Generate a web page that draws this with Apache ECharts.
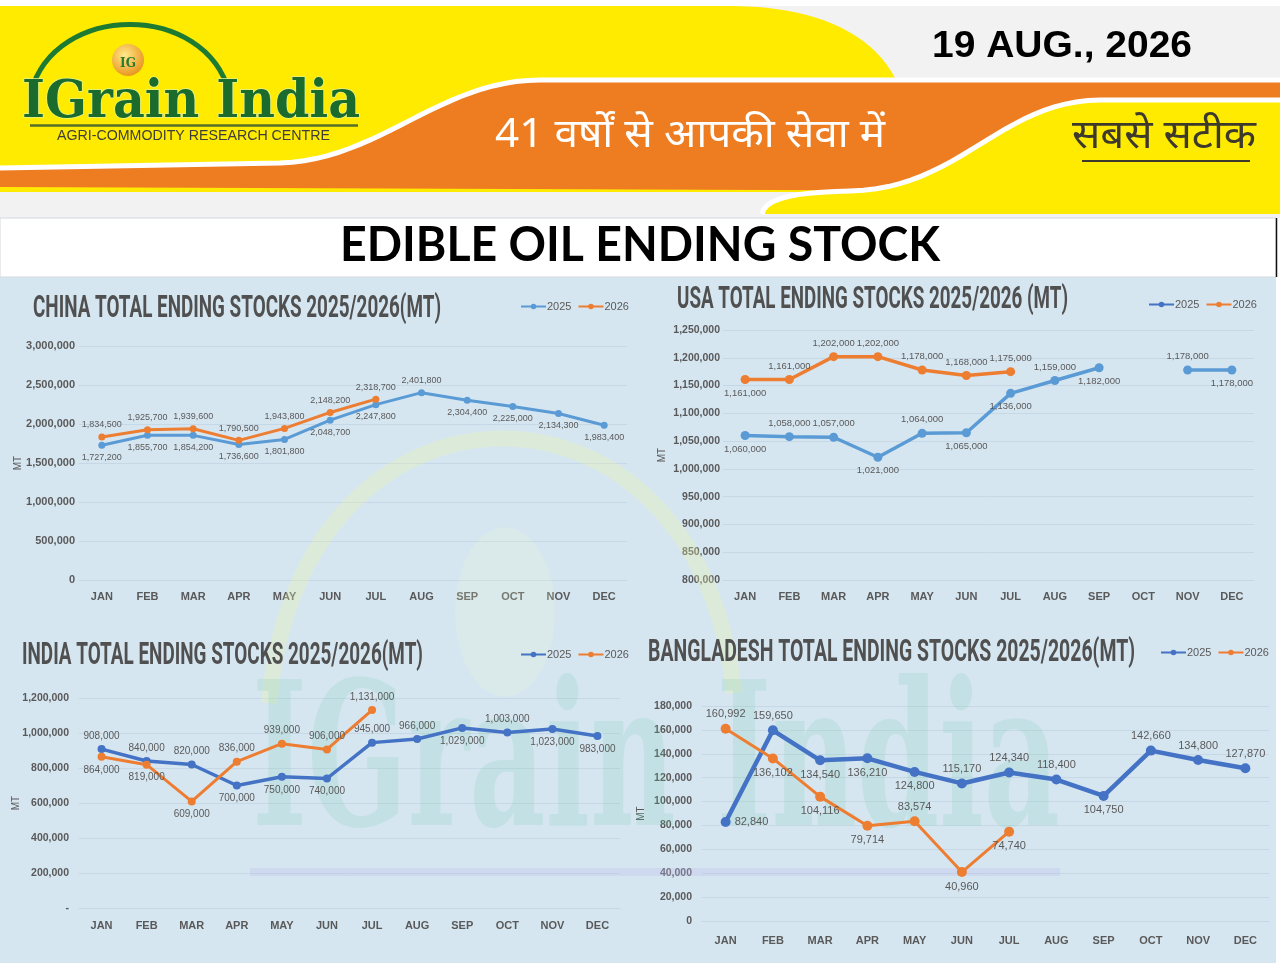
<!DOCTYPE html>
<html>
<head>
<meta charset="utf-8">
<title>Edible Oil Ending Stock</title>
<script src="https://cdn.jsdelivr.net/npm/echarts@6/dist/echarts.min.js"></script>
<style>
html, body { margin: 0; padding: 0; background: #fff; }
#main { width: 1280px; height: 968px; }
</style>
</head>
<body>
<div id="main"></div>
<script>
// ---- data ----
const months = ['JAN', 'FEB', 'MAR', 'APR', 'MAY', 'JUN', 'JUL', 'AUG', 'SEP', 'OCT', 'NOV', 'DEC'];

const china2025 = [1727200, 1855700, 1854200, 1736600, 1801800, 2048700, 2247800, 2401800, 2304400, 2225000, 2134300, 1983400];
const china2026 = [1834500, 1925700, 1939600, 1790500, 1943800, 2148200, 2318700];

const usa2025 = [1060000, 1058000, 1057000, 1021000, 1064000, 1065000, 1136000, 1159000, 1182000, null, 1178000, 1178000];
const usa2026 = [1161000, 1161000, 1202000, 1202000, 1178000, 1168000, 1175000];

const india2025 = [908000, 840000, 820000, 700000, 750000, 740000, 945000, 966000, 1029000, 1003000, 1023000, 983000];
const india2026 = [864000, 819000, 609000, 836000, 939000, 906000, 1131000];

const bangla2025 = [82840, 159650, 134540, 136210, 124800, 115170, 124340, 118400, 104750, 142660, 134800, 127870];
const bangla2026 = [160992, 136102, 104116, 79714, 83574, 40960, 74740];

const chartTitles = [
  'CHINA TOTAL ENDING STOCKS 2025/2026(MT)',
  'USA TOTAL ENDING STOCKS 2025/2026 (MT)',
  'INDIA TOTAL ENDING STOCKS 2025/2026(MT)',
  'BANGLADESH TOTAL ENDING STOCKS 2025/2026(MT)'
];

// ---- style ----
const BLUE_L = '#5b9bd5';
const BLUE_D = '#4472c4';
const ORANGE = '#ed7d31';
const TXT = '#595959';
const GRID_LINE = '#c6d8e5';
const SANS = '"Liberation Sans"';

// where each data label sits: T top, B bottom, R right
const place = {
  china2025: 'BBBBBBBTBBBB', china2026: 'TTTTTTT',
  usa2025: 'BTTBTBBTBBTB', usa2026: 'BTTTTTT',
  india2025: 'TTTBBBTTBTBB', india2026: 'BBBTTTT',
  bangla2025: 'RTBBBTTTBTTT', bangla2026: 'TBBBTBB'
};

const ctx = document.createElement('canvas').getContext('2d');
function textWidth(str, weight, size, family) {
  ctx.font = weight + ' ' + size + 'px ' + family;
  return ctx.measureText(str).width;
}

const fmt = v => (v == null ? '' : Number(v).toLocaleString('en-US'));

function fitText(str, o) {
  const weight = o.weight || 'normal';
  const w = textWidth(str, weight, o.size, o.family);
  return {
    type: 'text', x: o.x, y: o.y, scaleX: o.width ? o.width / w : 1, z: o.z == null ? 10 : o.z,
    style: {
      text: str, fontSize: o.size, fontFamily: o.family, fontWeight: weight,
      fill: o.fill, stroke: o.stroke, lineWidth: o.lineWidth || 0,
      align: o.align || 'left', verticalAlign: 'middle',
      textAlign: o.align || 'left', textVerticalAlign: 'middle'
    }
  };
}

function bez(p0, c1, c2, p1, n) {
  const pts = [];
  for (let i = 1; i <= n; i++) {
    const t = i / n, u = 1 - t;
    pts.push([
      u * u * u * p0[0] + 3 * u * u * t * c1[0] + 3 * u * t * t * c2[0] + t * t * t * p1[0],
      u * u * u * p0[1] + 3 * u * u * t * c1[1] + 3 * u * t * t * c2[1] + t * t * t * p1[1]
    ]);
  }
  return pts;
}

// ---- header / decoration ----
const yellowTop = [[0, 6], [730, 6]].concat(bez([730, 6], [810, 6], [870, 30], [895, 78], 20), [[895, 192], [0, 192]]);
const orangeEdge = [[0, 168], [280, 163]].concat(bez([280, 163], [380, 160], [440, 80], [540, 80], 24), [[1280, 80]]);
const orangeBand = orangeEdge.concat([[1280, 192], [0, 187]]);
const yellowEdge = [[762, 214]].concat(bez([762, 214], [765, 197], [800, 192], [850, 191], 10),
  bez([850, 191], [960, 189], [1000, 101], [1100, 100], 24), [[1280, 100]]);
const yellowLow = yellowEdge.concat([[1280, 214]]);

const graphics = [
  { type: 'rect', z: -5, shape: { x: 0, y: 0, width: 1280, height: 218 }, style: { fill: '#f2f2f2' } },
  { type: 'rect', z: -5, shape: { x: 0, y: 0, width: 1280, height: 6 }, style: { fill: '#ffffff' } },
  { type: 'polygon', z: -4, shape: { points: yellowTop }, style: { fill: '#ffeb00' } },
  { type: 'polygon', z: -3, shape: { points: orangeBand }, style: { fill: '#ee7d22' } },
  { type: 'polyline', z: -3, shape: { points: orangeEdge }, style: { stroke: '#ffffff', lineWidth: 5, fill: null } },
  { type: 'polygon', z: -2, shape: { points: yellowLow }, style: { fill: '#ffeb00' } },
  { type: 'polyline', z: -2, shape: { points: yellowEdge }, style: { stroke: '#ffffff', lineWidth: 5, fill: null } },
  { type: 'rect', z: -2, shape: { x: 0, y: 218, width: 1276, height: 59 }, style: { fill: '#ffffff', stroke: '#d4d9de', lineWidth: 1 } },
  { type: 'line', z: -1, shape: { x1: 1276.5, y1: 218, x2: 1276.5, y2: 277 }, style: { stroke: '#111', lineWidth: 1.5 } },
  { type: 'rect', z: -5, shape: { x: 0, y: 277, width: 1276, height: 686 }, style: { fill: '#d6e6f1' } },

  // logo
  { type: 'bezierCurve', z: 5, shape: { x1: 31, y1: 92, cpx1: 55, cpy1: 2, cpx2: 205, cpy2: 2, x2: 229, y2: 92 }, style: { stroke: '#1d7a32', lineWidth: 5, fill: null } },
  { type: 'circle', z: 6, shape: { cx: 128, cy: 60, r: 16 },
    style: { fill: new echarts.graphic.RadialGradient(0.4, 0.35, 0.7, [{ offset: 0, color: '#ffe98a' }, { offset: 1, color: '#e8921a' }]) } },
  fitText('IG', { x: 128, y: 64, size: 12, family: '"DejaVu Serif"', weight: 'bold', fill: '#2a7a30', align: 'center' }),
  fitText('IGrain India', { x: 22, y: 103, size: 52, family: '"DejaVu Serif"', weight: 'bold', width: 338, fill: '#1a6b2c', stroke: '#e6f28a', lineWidth: 1.5 }),
  { type: 'line', z: 5, shape: { x1: 30, y1: 125.5, x2: 358, y2: 125.5 }, style: { stroke: '#55702a', lineWidth: 2.5 } },
  fitText('AGRI-COMMODITY RESEARCH CENTRE', { x: 57, y: 136, size: 14, family: SANS, width: 273, fill: '#3d3d3d' }),

  fitText('19 AUG., 2026', { x: 1062, y: 47, size: 37, family: SANS, weight: 'bold', width: 260, fill: '#000', align: 'center' }),
  fitText('41 वर्षों से आपकी सेवा में', { x: 690, y: 136, size: 40, family: '"Noto Sans", sans-serif', width: 390, fill: '#ffffff', align: 'center' }),
  fitText('सबसे सटीक', { x: 1164, y: 137, size: 40, family: '"Noto Sans", sans-serif', width: 184, fill: '#3d3a2c', align: 'center' }),
  { type: 'line', z: 5, shape: { x1: 1082, y1: 161, x2: 1250, y2: 161 }, style: { stroke: '#3d3a2c', lineWidth: 2 } },
  fitText('EDIBLE OIL ENDING STOCK', { x: 640, y: 246, size: 48, family: 'Lato, "Open Sans"', weight: 'bold', width: 600, fill: '#000', align: 'center' }),

  // watermark
  { type: 'bezierCurve', z: 1, shape: { x1: 269, y1: 703, cpx1: 300, cpy1: 352, cpx2: 700, cpy2: 352, x2: 734, y2: 693 }, style: { stroke: 'rgba(232,244,170,0.32)', lineWidth: 16, fill: null } },
  { type: 'circle', z: 1, x: 505, y: 612, scaleY: 1.7, shape: { cx: 0, cy: 0, r: 50 }, style: { fill: 'rgba(236,246,205,0.2)' } },
  fitText('IGrain India', { x: 252, y: 773, size: 200, family: '"DejaVu Serif"', weight: 'bold', width: 808, fill: 'rgba(110,205,170,0.18)', z: 1 }),
  { type: 'rect', z: 1, shape: { x: 250, y: 868, width: 810, height: 8 }, style: { fill: 'rgba(190,190,240,0.3)' } },

  // panel titles
  fitText(chartTitles[0], { x: 33, y: 309, size: 31, family: 'Roboto', weight: 'bold', width: 408, fill: '#505050' }),
  fitText(chartTitles[1], { x: 677, y: 300, size: 31, family: 'Roboto', weight: 'bold', width: 391, fill: '#505050' }),
  fitText(chartTitles[2], { x: 22, y: 656, size: 31, family: 'Roboto', weight: 'bold', width: 401, fill: '#505050' }),
  fitText(chartTitles[3], { x: 648, y: 653, size: 31, family: 'Roboto', weight: 'bold', width: 487, fill: '#505050' })
];

// ---- chart parts ----
const posName = { T: 'top', B: 'bottom', R: 'right' };
function lineSeries(name, values, places, idx, color, width, symSize, labelSize) {
  return {
    name: name, type: 'line', xAxisIndex: idx, yAxisIndex: idx,
    data: values.map((v, i) => ({ value: v, label: { position: posName[places[i]] } })),
    symbol: 'circle', symbolSize: symSize, connectNulls: false,
    lineStyle: { color: color, width: width }, itemStyle: { color: color },
    label: { show: true, fontSize: labelSize, color: TXT, fontFamily: SANS, distance: 4, formatter: p => fmt(p.value) },
    labelLayout: { hideOverlap: false },
    z: name === '2026' ? 4 : 3
  };
}
function yAxis(idx, min, max, step, fontSize, margin, gap, dashZero) {
  return {
    type: 'value', gridIndex: idx, min: min, max: max, interval: step,
    name: 'MT', nameLocation: 'middle', nameGap: gap, nameRotate: 90, nameMoveOverlap: false,
    nameTextStyle: { color: TXT, fontSize: 10, fontFamily: SANS },
    axisLine: { show: false }, axisTick: { show: false },
    axisLabel: { color: TXT, fontSize: fontSize, fontFamily: SANS, fontWeight: 'bold', margin: margin,
      formatter: v => (dashZero && v === 0 ? '-' : fmt(v)) },
    splitLine: { lineStyle: { color: GRID_LINE, width: 1 } }
  };
}
function xAxis(idx, margin) {
  return {
    type: 'category', gridIndex: idx, data: months, boundaryGap: true,
    axisLine: { lineStyle: { color: GRID_LINE } }, axisTick: { show: false },
    axisLabel: { color: TXT, fontSize: 11, fontFamily: SANS, fontWeight: 'bold', margin: margin, interval: 0 }
  };
}
function legend(left, top, c2025) {
  return {
    left: left, top: top, itemWidth: 25, itemHeight: 7, itemGap: 6, padding: 0,
    textStyle: { color: TXT, fontSize: 11, fontFamily: SANS, padding: [0, 0, 0, -4] },
    data: [
      { name: '2025', itemStyle: { color: c2025 }, lineStyle: { color: c2025 } },
      { name: '2026', itemStyle: { color: ORANGE }, lineStyle: { color: ORANGE } }
    ]
  };
}

const option = {
  backgroundColor: '#ffffff',
  animation: false,
  graphic: graphics,
  legend: [
    legend(520, 301, BLUE_L),
    legend(1148, 299, BLUE_D),
    legend(520, 649, BLUE_D),
    legend(1160, 647, BLUE_D)
  ],
  grid: [
    { left: 79, right: 653, top: 346, bottom: 388 },
    { left: 723, right: 26, top: 330, bottom: 388 },
    { left: 79, right: 660, top: 698, bottom: 60 },
    { left: 702, right: 11, top: 706, bottom: 47 }
  ],
  xAxis: [xAxis(0, 11), xAxis(1, 11), xAxis(2, 12), xAxis(3, 14)],
  yAxis: [
    yAxis(0, 0, 3000000, 500000, 11, 4, 56, false),
    yAxis(1, 800000, 1250000, 50000, 10.5, 3, 56, false),
    yAxis(2, 0, 1200000, 200000, 10.5, 10, 58, true),
    yAxis(3, 0, 180000, 20000, 10.5, 10, 56, false)
  ],
  series: [
    lineSeries('2025', china2025, place.china2025, 0, BLUE_L, 3, 7, 9),
    lineSeries('2026', china2026, place.china2026, 0, ORANGE, 3, 7, 9),
    lineSeries('2025', usa2025, place.usa2025, 1, BLUE_L, 3.5, 9, 9.5),
    lineSeries('2026', usa2026, place.usa2026, 1, ORANGE, 3.5, 9, 9.5),
    lineSeries('2025', india2025, place.india2025, 2, BLUE_D, 3.5, 8, 10),
    lineSeries('2026', india2026, place.india2026, 2, ORANGE, 3, 8, 10),
    lineSeries('2025', bangla2025, place.bangla2025, 3, BLUE_D, 4.5, 10, 11),
    lineSeries('2026', bangla2026, place.bangla2026, 3, ORANGE, 3, 10, 11)
  ]
};

const chart = echarts.init(document.getElementById('main'));
chart.setOption(option);
</script>
</body>
</html>
